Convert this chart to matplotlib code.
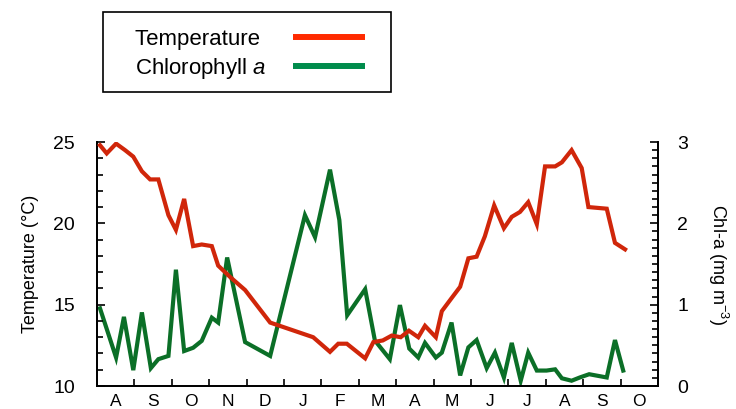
import numpy as np
import matplotlib
matplotlib.use('Agg')
import matplotlib.pyplot as plt
from matplotlib.lines import Line2D
from matplotlib.patches import Rectangle
from matplotlib.ticker import MultipleLocator, FixedLocator

plt.rcParams['font.family'] = ['Liberation Sans', 'DejaVu Sans']
plt.rcParams['mathtext.fontset'] = 'custom'
plt.rcParams['mathtext.rm'] = 'Liberation Sans'
plt.rcParams['mathtext.it'] = 'Liberation Sans:italic'

# x positions in months from 1 Aug (0) to end of Oct next year (15)
temp_x = [0.08, 0.26, 0.51, 0.75, 0.97, 1.20, 1.42, 1.64, 1.91, 2.11, 2.33, 2.57, 2.80,
          3.07, 3.24, 3.56, 3.96, 4.63, 5.78, 6.23, 6.45, 6.68, 7.17, 7.39, 7.64, 7.88,
          8.12, 8.34, 8.59, 8.77, 9.06, 9.22, 9.48, 9.71, 9.93, 10.15, 10.37, 10.62,
          10.88, 11.09, 11.31, 11.53, 11.76, 11.98, 12.25, 12.43, 12.69, 12.96, 13.14,
          13.63, 13.85, 14.12]
temp = [24.8, 24.3, 24.9, 24.5, 24.1, 23.2, 22.7, 22.7, 20.5, 19.6, 21.5, 18.6, 18.7,
        18.6, 17.4, 16.7, 15.9, 13.9, 13.0, 12.1, 12.6, 12.6, 11.7, 12.7, 12.8, 13.1,
        13.0, 13.4, 13.0, 13.7, 13.0, 14.6, 15.4, 16.1, 17.85, 17.95, 19.2, 21.1,
        19.7, 20.4, 20.7, 21.3, 19.95, 23.5, 23.5, 23.75, 24.5, 23.4, 21.0,
        20.9, 18.8, 18.4]

chl_x = [0.08, 0.51, 0.72, 0.97, 1.20, 1.44, 1.64, 1.91, 2.11, 2.33, 2.57, 2.80, 3.07,
         3.24, 3.48, 3.96, 4.63, 5.56, 5.83, 6.23, 6.48, 6.69, 7.17, 7.43, 7.83, 8.10,
         8.35, 8.59, 8.77, 9.06, 9.22, 9.48, 9.71, 9.93, 10.15, 10.42, 10.64, 10.88,
         11.09, 11.33, 11.53, 11.76, 12.02, 12.25, 12.43, 12.69, 12.91, 13.16, 13.63,
         13.85, 14.07]
chl = [0.955, 0.35, 0.85, 0.195, 0.905, 0.22, 0.33, 0.37, 1.43, 0.43, 0.47, 0.555, 0.84,
       0.78, 1.58, 0.54, 0.37, 2.10, 1.83, 2.66, 2.04, 0.87, 1.19, 0.56, 0.33, 0.995,
       0.46, 0.35, 0.53, 0.35, 0.41, 0.78, 0.13, 0.475, 0.565, 0.22, 0.41, 0.105,
       0.53, 0.065, 0.41, 0.19, 0.19, 0.205, 0.095, 0.065, 0.105, 0.145, 0.105,
       0.565, 0.19]

months = ['A', 'S', 'O', 'N', 'D', 'J', 'F', 'M', 'A', 'M', 'J', 'J', 'A', 'S', 'O']

red = '#d0260a'
green = '#0b6f27'

fig = plt.figure(figsize=(7.36, 4.09), dpi=100)
ax = fig.add_axes([0.1318, 0.0562, 0.7622, 0.5966])
ax2 = ax.twinx()

ax.plot(temp_x, temp, color=red, lw=3, solid_joinstyle='miter', zorder=3)
ax2.plot(chl_x, chl, color=green, lw=3, solid_joinstyle='miter')
ax.set_zorder(2)
ax.patch.set_visible(False)

ax.set_xlim(0, 15)
ax.set_ylim(10, 25)
ax2.set_ylim(0, 3)

for a in (ax, ax2):
    a.spines['top'].set_visible(False)
    for s in a.spines.values():
        s.set_linewidth(1.3)

ax.xaxis.set_major_locator(FixedLocator(np.arange(1, 15)))
ax.xaxis.set_major_formatter(plt.NullFormatter())
ax.xaxis.set_minor_locator(FixedLocator(np.arange(15) + 0.5))
ax.set_xticklabels(months, minor=True)
ax.tick_params(axis='x', which='major', direction='in', length=5, width=1.2)
ax.tick_params(axis='x', which='minor', length=0, pad=6, labelsize=12.5)

ax.yaxis.set_major_locator(MultipleLocator(5))
ax.yaxis.set_minor_locator(MultipleLocator(1))
ax.tick_params(axis='y', which='major', direction='in', length=6, width=1.2,
               pad=16, labelsize=14)
ax.tick_params(axis='y', which='minor', direction='in', length=4, width=1.2)

ax2.yaxis.set_major_locator(MultipleLocator(1))
ax2.yaxis.set_minor_locator(MultipleLocator(0.1))
ax2.tick_params(axis='y', which='major', direction='in', length=6, width=1.2,
                pad=14, labelsize=14)
ax2.tick_params(axis='y', which='minor', direction='in', length=4, width=1.2)

ax.set_ylabel('Temperature (°C)', fontsize=13, labelpad=10)
ax2.set_ylabel('Chl-a (mg m$^{-3}$)', fontsize=13, rotation=270, labelpad=30)

# legend box drawn separately so the padding matches
fig.patches.append(Rectangle((0.140, 0.775), 0.391, 0.196, transform=fig.transFigure,
                             fill=False, edgecolor='black', lw=1.2))
handles = [Line2D([], [], color='#ff2a00', lw=4.3, solid_capstyle='butt'),
           Line2D([], [], color='#008c4c', lw=4.3, solid_capstyle='butt')]
leg = fig.legend(handles, ['Temperature ', 'Chlorophyll $\\mathit{a}$'],
                 loc='upper left', bbox_to_anchor=(0.1834, 0.930),
                 markerfirst=False, fontsize=16, handlelength=3.25,
                 handletextpad=1.2, labelspacing=0.28, borderpad=0,
                 borderaxespad=0, frameon=False)

fig.savefig('out.png', dpi=100)
